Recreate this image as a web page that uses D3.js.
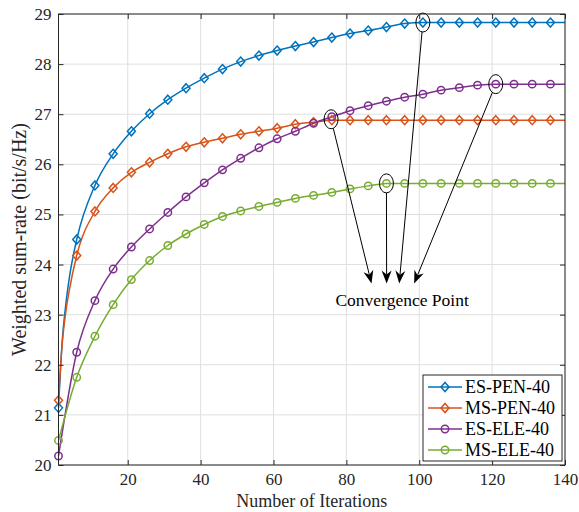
<!DOCTYPE html>
<html>
<head>
<meta charset="utf-8">
<script src="https://cdn.jsdelivr.net/npm/d3@7"></script>
<style>
  body { margin: 0; background: #fff; }
  svg { display: block; font-family: "Liberation Serif", "Times New Roman", serif; }
</style>
</head>
<body>
<div id="viz"></div>
<script>
const W = 579, H = 512;
const margin = { top: 14, right: 14, bottom: 47, left: 58.5 };

// iterations where markers are drawn
const iters = [1, 6, 11, 16, 21, 26, 31, 36, 41, 46, 51, 56, 61, 66, 71, 76, 81, 86, 91, 96, 101, 106, 111, 116, 121, 126, 131, 136];
const lastIter = 140;

const esPen = [21.14, 24.50, 25.58, 26.21, 26.66, 27.01, 27.29, 27.52, 27.72, 27.90, 28.05, 28.17, 28.27, 28.36,
    28.44, 28.53, 28.61, 28.67, 28.74, 28.81, 28.83, 28.83, 28.83, 28.83, 28.83, 28.83, 28.83, 28.83];
const msPen = [21.29, 24.18, 25.06, 25.53, 25.84, 26.04, 26.21, 26.35, 26.44, 26.52, 26.60, 26.66, 26.72, 26.80,
    26.84, 26.88, 26.88, 26.88, 26.88, 26.88, 26.88, 26.88, 26.88, 26.88, 26.88, 26.88, 26.88, 26.88];
const esEle = [20.18, 22.25, 23.28, 23.91, 24.35, 24.71, 25.04, 25.35, 25.63, 25.89, 26.12, 26.33, 26.51, 26.66,
    26.82, 26.95, 27.07, 27.17, 27.26, 27.34, 27.40, 27.48, 27.53, 27.58, 27.60, 27.60, 27.60, 27.60];
const msEle = [20.49, 21.75, 22.57, 23.20, 23.70, 24.08, 24.38, 24.61, 24.80, 24.96, 25.07, 25.16, 25.24, 25.32,
    25.38, 25.44, 25.51, 25.57, 25.62, 25.62, 25.62, 25.62, 25.62, 25.62, 25.62, 25.62, 25.62, 25.62];

// extra line points in the steep first iterations (no markers there)
const earlyIters = [2, 3, 4];
const esPenEarly = [22.45, 23.20, 23.75];
const msPenEarly = [22.40, 23.05, 23.50];

const seriesNames = ['ES-PEN-40', 'MS-PEN-40', 'ES-ELE-40', 'MS-ELE-40'];
const seriesColors = ['#0072BD', '#D95319', '#7E2F8E', '#77AC30'];
const seriesMarkers = ['diamond', 'diamond', 'circle', 'circle'];

const xTicks = [20, 40, 60, 80, 100, 120, 140];
const yTicks = [20, 21, 22, 23, 24, 25, 26, 27, 28, 29];

// convergence annotations: circled points and arrow tips (data units)
const convPoints = [[75.8, 26.9], [91, 25.62], [101, 28.83], [121, 27.6]];
const arrowTips = [[86.9, 23.62], [91.05, 23.62], [94.5, 23.62], [98.6, 23.62]];
const convLabel = 'Convergence Point';
const convLabelPos = [95.3, 23.17];

const axisColour = '#262626';
const gridColour = '#dfdfdf';

const x = d3.scaleLinear().domain([1, 140]).range([margin.left, W - margin.right]);
const y = d3.scaleLinear().domain([20, 29]).range([H - margin.bottom, margin.top]);

const svg = d3.select('#viz').append('svg')
    .attr('width', W)
    .attr('height', H);

// grid
const grid = svg.append('g');
grid.selectAll('.gx').data(xTicks).enter().append('line')
    .attr('x1', d => x(d)).attr('x2', d => x(d))
    .attr('y1', y(20)).attr('y2', y(29))
    .attr('stroke', gridColour).attr('stroke-width', 1);
grid.selectAll('.gy').data(yTicks).enter().append('line')
    .attr('x1', x(1)).attr('x2', x(140))
    .attr('y1', d => y(d)).attr('y2', d => y(d))
    .attr('stroke', gridColour).attr('stroke-width', 1);

// build line data
const allSeries = [esPen, msPen, esEle, msEle];
const early = [esPenEarly, msPenEarly, null, null];
const seriesData = allSeries.map((vals, i) => {
    let pts = iters.map((it, j) => [it, vals[j]]);
    if (early[i]) {
        const ex = earlyIters.map((it, j) => [it, early[i][j]]);
        pts = [pts[0]].concat(ex, pts.slice(1));
    }
    pts.push([lastIter, vals[vals.length - 1]]);
    return pts;
});

const line = d3.line()
    .x(d => x(d[0]))
    .y(d => y(d[1]))
    .curve(d3.curveMonotoneX);

const diamond = (cx, cy) => `M${cx},${cy - 4.5}L${cx + 4},${cy}L${cx},${cy + 4.5}L${cx - 4},${cy}Z`;

const plot = svg.append('g');
seriesData.forEach((pts, i) => {
    plot.append('path')
        .attr('d', line(pts))
        .attr('fill', 'none')
        .attr('stroke', seriesColors[i])
        .attr('stroke-width', 1.5);
});
allSeries.forEach((vals, i) => {
    const g = plot.append('g');
    const pts = iters.map((it, j) => [it, vals[j]]);
    if (seriesMarkers[i] === 'diamond') {
        g.selectAll('path').data(pts).enter().append('path')
            .attr('d', d => diamond(x(d[0]), y(d[1])))
            .attr('fill', 'none')
            .attr('stroke', seriesColors[i])
            .attr('stroke-width', 1.5);
    } else {
        g.selectAll('circle').data(pts).enter().append('circle')
            .attr('cx', d => x(d[0]))
            .attr('cy', d => y(d[1]))
            .attr('r', 3.7)
            .attr('fill', 'none')
            .attr('stroke', seriesColors[i])
            .attr('stroke-width', 1.5);
    }
});

// annotations
const ann = svg.append('g');
const rx = 7, ry = 9.5;
convPoints.forEach((p, i) => {
    const cx = x(p[0]), cy = y(p[1]);
    const tx = x(arrowTips[i][0]), ty = y(arrowTips[i][1]);
    ann.append('ellipse')
        .attr('cx', cx).attr('cy', cy)
        .attr('rx', rx).attr('ry', ry)
        .attr('fill', 'none').attr('stroke', '#000').attr('stroke-width', 1);
    const dx = tx - cx, dy = ty - cy;
    const len = Math.sqrt(dx * dx + dy * dy);
    const ux = dx / len, uy = dy / len;
    const t = 1 / Math.sqrt((ux / rx) * (ux / rx) + (uy / ry) * (uy / ry));
    const sx = cx + ux * t, sy = cy + uy * t;
    const L = 13, hw = 5, notch = 4;
    const nx = -uy, ny = ux;
    const bx = tx - ux * L, by = ty - uy * L;
    const mx = tx - ux * (L - notch), my = ty - uy * (L - notch);
    ann.append('line')
        .attr('x1', sx).attr('y1', sy).attr('x2', mx).attr('y2', my)
        .attr('stroke', '#000').attr('stroke-width', 1);
    ann.append('path')
        .attr('d', `M${tx},${ty}L${bx + nx * hw},${by + ny * hw}L${mx},${my}L${bx - nx * hw},${by - ny * hw}Z`)
        .attr('fill', '#000');
});
ann.append('text')
    .attr('x', x(convLabelPos[0]))
    .attr('y', y(convLabelPos[1]))
    .attr('text-anchor', 'middle')
    .attr('font-size', '17.5px')
    .attr('fill', '#000')
    .text(convLabel);

// axes box with inward ticks on all sides
const axes = svg.append('g');
axes.append('rect')
    .attr('x', x(1)).attr('y', y(29))
    .attr('width', x(140) - x(1)).attr('height', y(20) - y(29))
    .attr('fill', 'none').attr('stroke', axisColour).attr('stroke-width', 1);

const xAxis = d3.axisBottom(x).tickValues(xTicks).tickSizeInner(-5).tickSizeOuter(0).tickPadding(8);
const xAxisTop = d3.axisTop(x).tickValues(xTicks).tickSizeInner(-5).tickSizeOuter(0).tickFormat('');
const yAxis = d3.axisLeft(y).tickValues(yTicks).tickSizeInner(-5).tickSizeOuter(0).tickPadding(7);
const yAxisRight = d3.axisRight(y).tickValues(yTicks).tickSizeInner(-5).tickSizeOuter(0).tickFormat('');

[[xAxis, `translate(0,${y(20)})`], [xAxisTop, `translate(0,${y(29)})`],
 [yAxis, `translate(${x(1)},0)`], [yAxisRight, `translate(${x(140)},0)`]].forEach(([ax, tr]) => {
    const g = axes.append('g').attr('transform', tr).call(ax);
    g.select('.domain').remove();
    g.selectAll('line').attr('stroke', axisColour);
    g.selectAll('text')
        .attr('fill', axisColour)
        .style('font-family', '"Liberation Serif", serif')
        .style('font-size', '17px');
});

// axis titles
svg.append('text')
    .attr('x', (x(1) + x(140)) / 2)
    .attr('y', 507)
    .attr('text-anchor', 'middle')
    .attr('font-size', '18px')
    .attr('fill', axisColour)
    .text('Number of Iterations');

svg.append('text')
    .attr('transform', `translate(26,${(y(20) + y(29)) / 2}) rotate(-90)`)
    .attr('text-anchor', 'middle')
    .attr('font-size', '20px')
    .attr('fill', axisColour)
    .text('Weighted sum-rate (bit/s/Hz)');

// legend
const legend = svg.append('g');
legend.append('rect')
    .attr('x', 423).attr('y', 375)
    .attr('width', 139).attr('height', 86)
    .attr('fill', '#fff').attr('stroke', axisColour).attr('stroke-width', 1);
seriesNames.forEach((name, i) => {
    const ly = 387 + i * 21;
    legend.append('line')
        .attr('x1', 428).attr('x2', 462).attr('y1', ly).attr('y2', ly)
        .attr('stroke', seriesColors[i]).attr('stroke-width', 1.5);
    if (seriesMarkers[i] === 'diamond') {
        legend.append('path').attr('d', diamond(445, ly))
            .attr('fill', 'none').attr('stroke', seriesColors[i]).attr('stroke-width', 1.5);
    } else {
        legend.append('circle').attr('cx', 445).attr('cy', ly).attr('r', 3.7)
            .attr('fill', 'none').attr('stroke', seriesColors[i]).attr('stroke-width', 1.5);
    }
    legend.append('text')
        .attr('x', 465).attr('y', ly + 6)
        .attr('font-size', '18px')
        .attr('fill', '#000')
        .text(name);
});
</script>
</body>
</html>
